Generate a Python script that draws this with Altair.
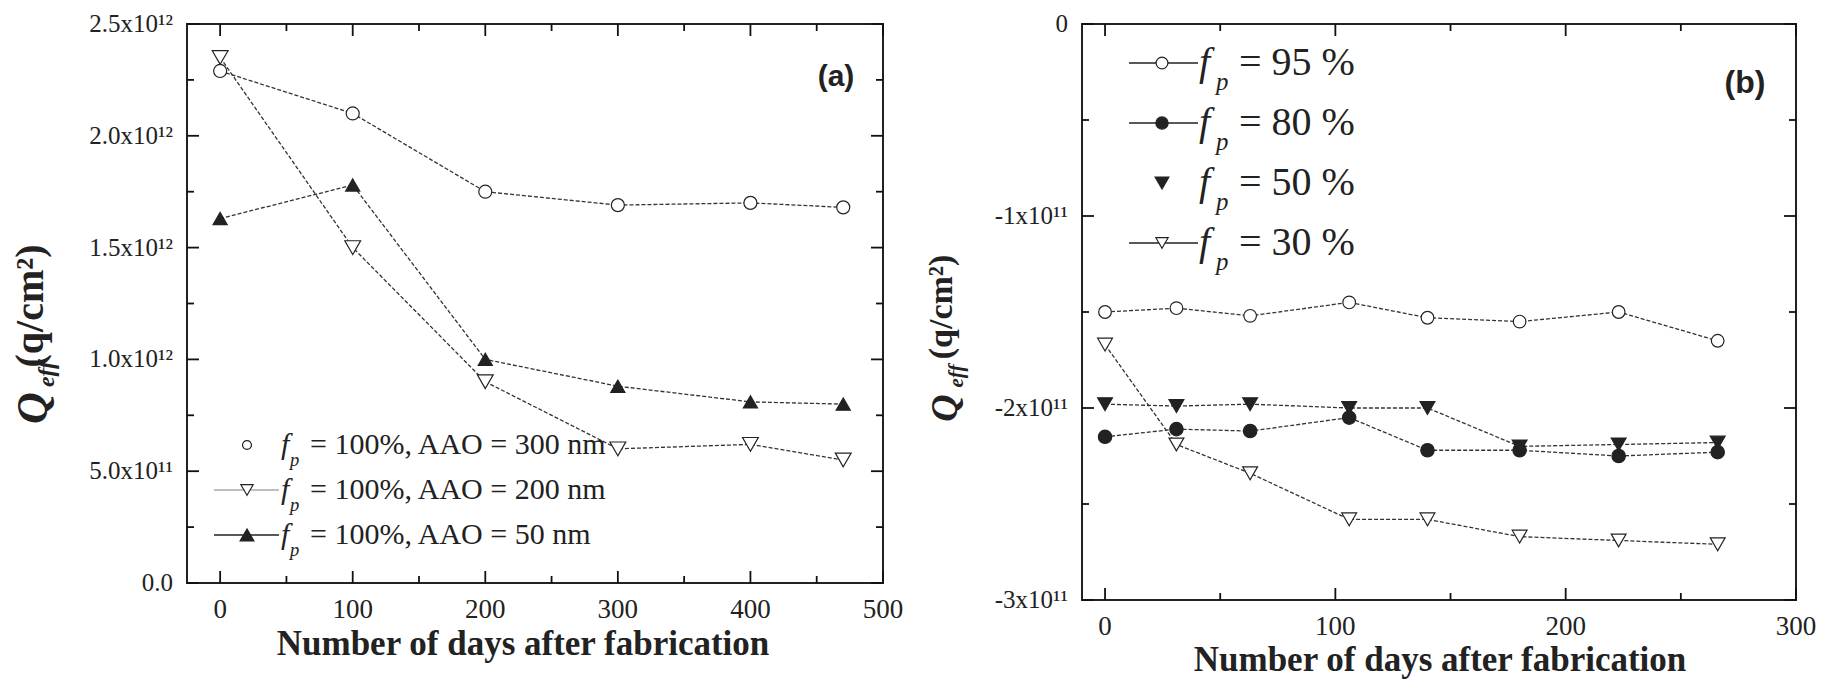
import altair as alt
import pandas as pd

SERIF = "Liberation Serif"
SANS = "Liberation Sans"
INK = "#222222"

# ---------------- panel (a): f_p = 100 %, three AAO thicknesses ----------------
days_a = [0, 100, 200, 300, 400, 470]
q_aao300 = [2.29e12, 2.10e12, 1.75e12, 1.69e12, 1.70e12, 1.68e12]
q_aao200 = [2.35e12, 1.50e12, 0.90e12, 0.60e12, 0.62e12, 0.55e12]
q_aao50 = [1.63e12, 1.78e12, 1.00e12, 0.88e12, 0.81e12, 0.80e12]
series_a = ["AAO = 300 nm", "AAO = 200 nm", "AAO = 50 nm"]
legend_a = ["= 100%, AAO = 300 nm", "= 100%, AAO = 200 nm", "= 100%, AAO = 50 nm"]

# ---------------- panel (b): four porosities ----------------
days_b = [0, 31, 63, 106, 140, 180, 223, 266]
q_fp95 = [-1.50e11, -1.48e11, -1.52e11, -1.45e11, -1.53e11, -1.55e11, -1.50e11, -1.65e11]
q_fp80 = [-2.15e11, -2.11e11, -2.12e11, -2.05e11, -2.22e11, -2.22e11, -2.25e11, -2.23e11]
q_fp50 = [-1.98e11, -1.99e11, -1.98e11, -2.00e11, -2.00e11, -2.20e11, -2.19e11, -2.18e11]
q_fp30 = [-1.67e11, -2.19e11, -2.34e11, -2.58e11, -2.58e11, -2.67e11, -2.69e11, -2.71e11]
series_b = ["95 %", "80 %", "50 %", "30 %"]
legend_b = ["= 95 %", "= 80 %", "= 50 %", "= 30 %"]

# ---------------- axis ticks and tick labels ----------------
xa_major = [0, 100, 200, 300, 400, 500]
xa_minor = [50, 150, 250, 350, 450]
xa_labels = ["0", "100", "200", "300", "400", "500"]
ya_major = [0, 0.5e12, 1.0e12, 1.5e12, 2.0e12, 2.5e12]
ya_minor = [0.25e12, 0.75e12, 1.25e12, 1.75e12, 2.25e12]
ya_labels = ["0.0", "5.0x10¹¹", "1.0x10¹²", "1.5x10¹²", "2.0x10¹²", "2.5x10¹²"]

xb_major = [0, 100, 200, 300]
xb_minor = [50, 150, 250]
xb_labels = ["0", "100", "200", "300"]
yb_major = [0, -1e11, -2e11, -3e11]
yb_minor = [-0.5e11, -1.5e11, -2.5e11]
yb_labels = ["0", "-1x10¹¹", "-2x10¹¹", "-3x10¹¹"]

X_TITLE = "Number of days after fabrication"

MAJ, MIN = 12, 7      # inward tick lengths
PAD = 14              # gap between frame and tick labels


def make_panel(df, xs, ys, W, H):
    """Builders for the data-driven layers of one panel; all share the same scales."""

    def X(field):
        return alt.X(field, scale=xs, axis=None)

    def Y(field):
        return alt.Y(field, scale=ys, axis=None)

    def lines():
        return alt.Chart(df).mark_line(color="#333333", strokeWidth=1.3, strokeDash=[4, 2]).encode(
            x=X("day:Q"), y=Y("q:Q"), detail="series:N")

    def points(name, shape, filled, size):
        return alt.Chart(df).transform_filter(alt.datum.series == name).mark_point(
            shape=shape, filled=True, fill=INK if filled else "white", stroke=INK,
            strokeWidth=1.2, size=size, opacity=1).encode(x=X("day:Q"), y=Y("q:Q"))

    def ticks(x_major, x_minor, y_major, y_minor):
        # inward-pointing ticks on all four sides of the frame
        layers = []
        for vals, L in ((x_major, MAJ), (x_minor, MIN)):
            rule = alt.Chart(pd.DataFrame({"v": vals})).mark_rule(color="#111111", strokeWidth=1.8)
            layers.append(rule.encode(x=X("v:Q"), y=alt.value(H), y2=alt.value(H - L)))
            layers.append(rule.encode(x=X("v:Q"), y=alt.value(0), y2=alt.value(L)))
        for vals, L in ((y_major, MAJ), (y_minor, MIN)):
            rule = alt.Chart(pd.DataFrame({"v": vals})).mark_rule(color="#111111", strokeWidth=1.8)
            layers.append(rule.encode(y=Y("v:Q"), x=alt.value(0), x2=alt.value(L)))
            layers.append(rule.encode(y=Y("v:Q"), x=alt.value(W), x2=alt.value(W - L)))
        return layers

    def tick_labels(x_vals, x_text, y_vals, y_text):
        xl = alt.Chart(pd.DataFrame({"day": x_vals, "lab": x_text})).mark_text(
            font=SERIF, fontSize=27, color=INK, align="center", baseline="top").encode(
            x=X("day:Q"), y=alt.value(H + PAD), text="lab:N")
        yl = alt.Chart(pd.DataFrame({"q": y_vals, "lab": y_text})).mark_text(
            font=SERIF, fontSize=25, color=INK, align="right", baseline="middle").encode(
            y=Y("q:Q"), x=alt.value(-PAD), text="lab:N")
        return [xl, yl]

    return lines, points, ticks, tick_labels


def one_row():
    return pd.DataFrame({"t": [0]})


def text(s, x, y, size, weight="normal", style="normal", font=SERIF, angle=0,
         align="center", baseline="middle"):
    kw = dict(fontSize=size, fontWeight=weight, fontStyle=style, font=font,
              align=align, baseline=baseline, color=INK)
    if angle:
        kw["angle"] = angle
    return alt.Chart(pd.DataFrame({"t": [s]})).mark_text(**kw).encode(
        x=alt.value(x), y=alt.value(y), text="t:N")


def segment(x0, x1, y, color):
    return alt.Chart(one_row()).mark_rule(color=color, strokeWidth=1.5).encode(
        x=alt.value(x0), x2=alt.value(x1), y=alt.value(y))


def symbol(x, y, shape, filled, size):
    return alt.Chart(one_row()).mark_point(
        shape=shape, filled=True, fill=INK if filled else "white", stroke=INK,
        strokeWidth=1.2, size=size, opacity=1).encode(x=alt.value(x), y=alt.value(y))


def legend_row(y, label, shape, filled, size, line, line_x, mark_x, f_x, p_x, rest_x, fs):
    parts = []
    if line:
        parts.append(segment(line_x[0], line_x[1], y, line))
    parts.append(symbol(mark_x, y, shape, filled, size))
    parts.append(text("f", f_x, y, fs, style="italic", align="left"))
    parts.append(text("p", p_x, y + 0.5 * fs, 0.62 * fs, style="italic", align="left"))
    parts.append(text(label, rest_x, y, fs, align="left"))
    return parts


def long_frame(days, columns, names):
    rows = []
    for name, vals in zip(names, columns):
        for d, v in zip(days, vals):
            rows.append({"day": d, "q": v, "series": name})
    return pd.DataFrame(rows)


# ---------------- panel (a) ----------------
W_A, H_A = 696, 559
df_a = long_frame(days_a, [q_aao300, q_aao200, q_aao50], series_a)
lines_a, points_a, ticks_a, labels_a = make_panel(
    df_a,
    alt.Scale(domain=[-25, 500], nice=False, zero=False),
    alt.Scale(domain=[0, 2.5e12], nice=False, zero=False),
    W_A, H_A)

layers_a = [
    lines_a(),
    points_a(series_a[0], "circle", False, 170),
    points_a(series_a[1], "triangle-down", False, 250),
    points_a(series_a[2], "triangle-up", True, 200),
]
layers_a += ticks_a(xa_major, xa_minor, ya_major, ya_minor)
layers_a += labels_a(xa_major, xa_labels, ya_major, ya_labels)
layers_a += [
    text("(a)", 649, 53, 30, weight="bold", font=SANS),
    text("(q/cm²)", -156, 282, 40, weight="bold", angle=270),
    text("Q", -153, 384, 44, weight="bold", style="italic", angle=270),
    text("eff", -140, 350, 24, weight="bold", style="italic", angle=270),
    text(X_TITLE, 336, H_A + 72, 35, weight="bold", baseline="alphabetic"),
]
rows_a = [421, 466, 511]
styles_a = [("circle", False, 80, None), ("triangle-down", False, 150, "#aaaaaa"),
            ("triangle-up", True, 190, INK)]
for y, lab, (shape, filled, size, line) in zip(rows_a, legend_a, styles_a):
    layers_a += legend_row(y, lab, shape, filled, size, line, (27, 92), 60, 94, 103, 123, 30)

panel_a = alt.layer(*layers_a).properties(width=W_A, height=H_A)

# ---------------- panel (b) ----------------
W_B, H_B = 714, 576
df_b = long_frame(days_b, [q_fp95, q_fp80, q_fp50, q_fp30], series_b)
lines_b, points_b, ticks_b, labels_b = make_panel(
    df_b,
    alt.Scale(domain=[-10, 300], nice=False, zero=False),
    alt.Scale(domain=[-3e11, 0], nice=False, zero=False),
    W_B, H_B)

layers_b = [
    lines_b(),
    points_b(series_b[0], "circle", False, 160),
    points_b(series_b[1], "circle", True, 180),
    points_b(series_b[2], "triangle-down", True, 220),
    points_b(series_b[3], "triangle-down", False, 220),
]
layers_b += ticks_b(xb_major, xb_minor, yb_major, yb_minor)
layers_b += labels_b(xb_major, xb_labels, yb_major, yb_labels)
layers_b += [
    text("(b)", 663, 59, 32, weight="bold", font=SANS),
    text("(q/cm²)", -140, 283, 34, weight="bold", angle=270),
    text("Q", -136, 384, 38, weight="bold", style="italic", angle=270),
    text("eff", -125, 352, 21, weight="bold", style="italic", angle=270),
    text(X_TITLE, 358, H_B + 71, 35, weight="bold", baseline="alphabetic"),
]
rows_b = [39, 99, 159, 219]
styles_b = [("circle", False, 140, INK), ("circle", True, 150, INK),
            ("triangle-down", True, 190, None), ("triangle-down", False, 150, INK)]
for y, lab, (shape, filled, size, line) in zip(rows_b, legend_b, styles_b):
    layers_b += legend_row(y, lab, shape, filled, size, line, (47, 116), 80, 117, 134, 157, 40)

panel_b = alt.layer(*layers_b).properties(width=W_B, height=H_B)

chart = alt.hconcat(panel_a, panel_b, spacing=199, bounds="flush").properties(
    padding={"left": 10, "top": 11, "right": 0, "bottom": 0},
    background="white",
).configure_view(stroke=INK, strokeWidth=2)

chart.save("out.html", embed_options={"renderer": "svg", "actions": False})
